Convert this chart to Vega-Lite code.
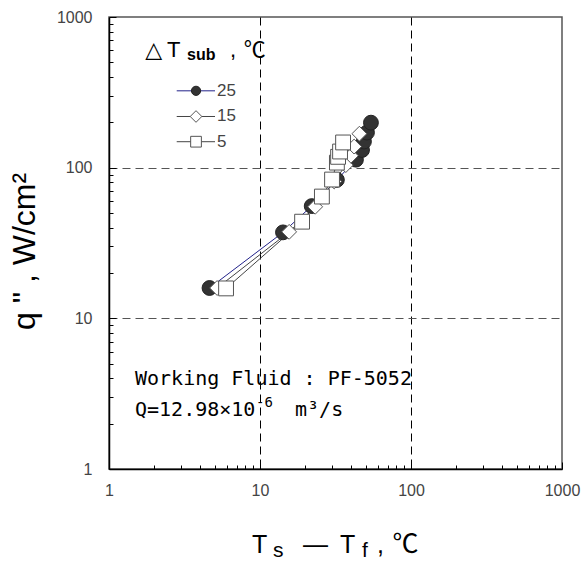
{
  "$schema": "https://vega.github.io/schema/vega-lite/v6.json",
  "width": 453,
  "height": 452,
  "autosize": {"type": "none"},
  "padding": {"left": 109, "top": 17, "right": 21, "bottom": 94},
  "background": "white",
  "config": {"view": {"stroke": "#555", "strokeWidth": 1.5}, "font": "Liberation Sans"},
  "datasets": {
    "pts": [
      {"series": "25", "x": 4.63, "y": 15.9},
      {"series": "25", "x": 14.2, "y": 37.2},
      {"series": "25", "x": 22.0, "y": 55.6},
      {"series": "25", "x": 32.3, "y": 83},
      {"series": "25", "x": 43.2, "y": 113},
      {"series": "25", "x": 47.4, "y": 131},
      {"series": "25", "x": 48.8, "y": 149},
      {"series": "25", "x": 51.1, "y": 171},
      {"series": "25", "x": 54.3, "y": 199},
      {"series": "15", "x": 5.2, "y": 15.9},
      {"series": "15", "x": 15.6, "y": 37.5},
      {"series": "15", "x": 23.2, "y": 55},
      {"series": "15", "x": 31.0, "y": 81},
      {"series": "15", "x": 37.0, "y": 104},
      {"series": "15", "x": 40.0, "y": 120},
      {"series": "15", "x": 42.0, "y": 138},
      {"series": "15", "x": 45.5, "y": 168},
      {"series": "5", "x": 5.96, "y": 15.8},
      {"series": "5", "x": 19.0, "y": 43.8},
      {"series": "5", "x": 25.7, "y": 64.3},
      {"series": "5", "x": 30.0, "y": 83.4},
      {"series": "5", "x": 32.3, "y": 108},
      {"series": "5", "x": 32.9, "y": 118},
      {"series": "5", "x": 33.9, "y": 128},
      {"series": "5", "x": 35.5, "y": 147}
    ]
  },
  "layer": [
    {
      "data": {"name": "pts"},
      "mark": {"type": "line", "strokeWidth": 1},
      "encoding": {
        "x": {
          "field": "x", "type": "quantitative",
          "scale": {"type": "log", "domain": [1, 1000], "nice": false},
          "axis": {
            "title": null,
            "values": [1,2,3,4,5,6,7,8,9,10,20,30,40,50,60,70,80,90,100,200,300,400,500,600,700,800,900,1000],
            "labelExpr": "indexof([1,10,100,1000], datum.value) >= 0 ? '' + datum.value : ''",
            "labelFlush": false,
            "labelFont": "Liberation Sans", "labelFontSize": 16, "labelColor": "#444",
            "labelPadding": 20,
            "tickSize": {"condition": {"test": "indexof([1,10,100,1000], datum.value) >= 0", "value": -7}, "value": -4},
            "tickColor": "black",
            "domainColor": "black", "domainWidth": 1.5,
            "grid": true,
            "gridColor": "black", "gridDash": [8, 5], "gridWidth": 1,
            "gridOpacity": {"condition": {"test": "datum.value === 10 || datum.value === 100", "value": 1}, "value": 0}
          }
        },
        "y": {
          "field": "y", "type": "quantitative",
          "scale": {"type": "log", "domain": [1, 1000], "nice": false},
          "axis": {
            "title": null,
            "values": [1,2,3,4,5,6,7,8,9,10,20,30,40,50,60,70,80,90,100,200,300,400,500,600,700,800,900,1000],
            "labelExpr": "indexof([1,10,100,1000], datum.value) >= 0 ? '' + datum.value : ''",
            "labelFlush": false,
            "labelFont": "Liberation Sans", "labelFontSize": 16, "labelColor": "#444",
            "labelPadding": 24,
            "tickSize": {"condition": {"test": "indexof([1,10,100,1000], datum.value) >= 0", "value": -7}, "value": -4},
            "tickColor": "black",
            "domainColor": "black", "domainWidth": 1.5,
            "grid": true,
            "gridColor": "#555", "gridDash": [8, 5], "gridWidth": 1,
            "gridOpacity": {"condition": {"test": "datum.value === 10 || datum.value === 100", "value": 1}, "value": 0}
          }
        },
        "detail": {"field": "series"},
        "color": {
          "field": "series", "type": "nominal",
          "scale": {"domain": ["25", "15", "5"], "range": ["#22228a", "#444444", "#444444"]},
          "legend": null
        }
      }
    },
    {
      "data": {"name": "pts"},
      "mark": {"type": "point", "filled": false, "size": 220, "strokeWidth": 1, "opacity": 1},
      "encoding": {
        "x": {"field": "x", "type": "quantitative", "scale": {"type": "log", "domain": [1, 1000], "nice": false}},
        "y": {"field": "y", "type": "quantitative", "scale": {"type": "log", "domain": [1, 1000], "nice": false}},
        "shape": {
          "field": "series", "type": "nominal",
          "scale": {"domain": ["25", "15", "5"], "range": ["circle", "diamond", "square"]},
          "legend": null
        },
        "fill": {
          "field": "series", "type": "nominal",
          "scale": {"domain": ["25", "15", "5"], "range": ["#333333", "#ffffff", "#ffffff"]},
          "legend": null
        },
        "stroke": {
          "field": "series", "type": "nominal",
          "scale": {"domain": ["25", "15", "5"], "range": ["#222222", "#555555", "#555555"]},
          "legend": null
        }
      }
    },
    {
      "data": {"values": [{}]},
      "mark": {"type": "text", "text": "q \"    ,     W/cm²", "angle": 270, "align": "center", "baseline": "middle", "font": "Liberation Sans", "fontSize": 32, "color": "black"},
      "encoding": {"x": {"datum": 0.278, "scale": {"type": "log", "domain": [1, 1000], "nice": false}}, "y": {"datum": 27.8, "scale": {"type": "log", "domain": [1, 1000], "nice": false}}}
    },
    {
      "data": {"values": [{}]},
      "mark": {"type": "rule", "color": "#22228a", "strokeWidth": 1},
      "encoding": {"x": {"datum": 2.808, "scale": {"type": "log", "domain": [1, 1000], "nice": false}}, "x2": {"datum": 5.035}, "y": {"datum": 323.6, "scale": {"type": "log", "domain": [1, 1000], "nice": false}}}
    },
    {
      "data": {"values": [{}]},
      "mark": {"type": "rule", "color": "#444444", "strokeWidth": 1},
      "encoding": {"x": {"datum": 2.808, "scale": {"type": "log", "domain": [1, 1000], "nice": false}}, "x2": {"datum": 5.035}, "y": {"datum": 218.6, "scale": {"type": "log", "domain": [1, 1000], "nice": false}}}
    },
    {
      "data": {"values": [{}]},
      "mark": {"type": "rule", "color": "#444444", "strokeWidth": 1},
      "encoding": {"x": {"datum": 2.808, "scale": {"type": "log", "domain": [1, 1000], "nice": false}}, "x2": {"datum": 5.035}, "y": {"datum": 148.7, "scale": {"type": "log", "domain": [1, 1000], "nice": false}}}
    },
    {
      "data": {"values": [{}]},
      "mark": {"type": "point", "shape": "circle", "filled": true, "fill": "#333333", "stroke": "#222222", "strokeWidth": 1, "size": 85, "opacity": 1},
      "encoding": {"x": {"datum": 3.77, "scale": {"type": "log", "domain": [1, 1000], "nice": false}}, "y": {"datum": 323.6, "scale": {"type": "log", "domain": [1, 1000], "nice": false}}}
    },
    {
      "data": {"values": [{}]},
      "mark": {"type": "point", "shape": "diamond", "filled": true, "fill": "#ffffff", "stroke": "#555555", "strokeWidth": 1, "size": 135, "opacity": 1},
      "encoding": {"x": {"datum": 3.77, "scale": {"type": "log", "domain": [1, 1000], "nice": false}}, "y": {"datum": 218.6, "scale": {"type": "log", "domain": [1, 1000], "nice": false}}}
    },
    {
      "data": {"values": [{}]},
      "mark": {"type": "point", "shape": "square", "filled": true, "fill": "#ffffff", "stroke": "#555555", "strokeWidth": 1, "size": 115, "opacity": 1},
      "encoding": {"x": {"datum": 3.77, "scale": {"type": "log", "domain": [1, 1000], "nice": false}}, "y": {"datum": 148.7, "scale": {"type": "log", "domain": [1, 1000], "nice": false}}}
    },
    {
      "data": {"values": [{}]},
      "mark": {"type": "text", "text": "25", "align": "left", "baseline": "middle", "font": "Liberation Sans", "fontSize": 17, "color": "#444444"},
      "encoding": {"x": {"datum": 5.19, "scale": {"type": "log", "domain": [1, 1000], "nice": false}}, "y": {"datum": 323.6, "scale": {"type": "log", "domain": [1, 1000], "nice": false}}}
    },
    {
      "data": {"values": [{}]},
      "mark": {"type": "text", "text": "15", "align": "left", "baseline": "middle", "font": "Liberation Sans", "fontSize": 17, "color": "#444444"},
      "encoding": {"x": {"datum": 5.19, "scale": {"type": "log", "domain": [1, 1000], "nice": false}}, "y": {"datum": 218.6, "scale": {"type": "log", "domain": [1, 1000], "nice": false}}}
    },
    {
      "data": {"values": [{}]},
      "mark": {"type": "text", "text": "5", "align": "left", "baseline": "middle", "font": "Liberation Sans", "fontSize": 17, "color": "#444444"},
      "encoding": {"x": {"datum": 5.19, "scale": {"type": "log", "domain": [1, 1000], "nice": false}}, "y": {"datum": 148.7, "scale": {"type": "log", "domain": [1, 1000], "nice": false}}}
    },
    {
      "data": {"values": [{}]},
      "mark": {"type": "text", "text": "△", "align": "left", "baseline": "alphabetic", "font": "DejaVu Sans", "fontSize": 22, "color": "black"},
      "encoding": {"x": {"datum": 1.74, "scale": {"type": "log", "domain": [1, 1000], "nice": false}}, "y": {"datum": 543, "scale": {"type": "log", "domain": [1, 1000], "nice": false}}}
    },
    {
      "data": {"values": [{}]},
      "mark": {"type": "text", "text": "T", "align": "left", "baseline": "alphabetic", "font": "Liberation Sans", "fontSize": 22, "color": "black"},
      "encoding": {"x": {"datum": 2.42, "scale": {"type": "log", "domain": [1, 1000], "nice": false}}, "y": {"datum": 543, "scale": {"type": "log", "domain": [1, 1000], "nice": false}}}
    },
    {
      "data": {"values": [{}]},
      "mark": {"type": "text", "text": "sub", "align": "left", "baseline": "alphabetic", "font": "Liberation Sans", "fontSize": 16, "fontWeight": "bold", "color": "black"},
      "encoding": {"x": {"datum": 3.29, "scale": {"type": "log", "domain": [1, 1000], "nice": false}}, "y": {"datum": 520, "scale": {"type": "log", "domain": [1, 1000], "nice": false}}}
    },
    {
      "data": {"values": [{}]},
      "mark": {"type": "text", "text": ",", "align": "left", "baseline": "alphabetic", "font": "Liberation Sans", "fontSize": 22, "color": "black"},
      "encoding": {"x": {"datum": 6.33, "scale": {"type": "log", "domain": [1, 1000], "nice": false}}, "y": {"datum": 543, "scale": {"type": "log", "domain": [1, 1000], "nice": false}}}
    },
    {
      "data": {"values": [{}]},
      "mark": {"type": "text", "text": "℃", "align": "left", "baseline": "alphabetic", "font": "Noto Sans CJK KR", "fontSize": 22, "color": "black"},
      "encoding": {"x": {"datum": 7.8, "scale": {"type": "log", "domain": [1, 1000], "nice": false}}, "y": {"datum": 543, "scale": {"type": "log", "domain": [1, 1000], "nice": false}}}
    },
    {
      "data": {"values": [{}]},
      "mark": {"type": "text", "text": "Working Fluid : PF-5052", "align": "left", "baseline": "alphabetic", "font": "DejaVu Sans Mono", "fontSize": 20, "color": "black"},
      "encoding": {"x": {"datum": 1.486, "scale": {"type": "log", "domain": [1, 1000], "nice": false}}, "y": {"datum": 3.6, "scale": {"type": "log", "domain": [1, 1000], "nice": false}}}
    },
    {
      "data": {"values": [{}]},
      "mark": {"type": "text", "text": "Q=12.98×10", "align": "left", "baseline": "alphabetic", "font": "DejaVu Sans Mono", "fontSize": 20, "color": "black"},
      "encoding": {"x": {"datum": 1.486, "scale": {"type": "log", "domain": [1, 1000], "nice": false}}, "y": {"datum": 2.24, "scale": {"type": "log", "domain": [1, 1000], "nice": false}}}
    },
    {
      "data": {"values": [{}]},
      "mark": {"type": "text", "text": "-6", "align": "left", "baseline": "alphabetic", "font": "DejaVu Sans Mono", "fontSize": 14, "color": "black"},
      "encoding": {"x": {"datum": 9.41, "scale": {"type": "log", "domain": [1, 1000], "nice": false}}, "y": {"datum": 2.57, "scale": {"type": "log", "domain": [1, 1000], "nice": false}}}
    },
    {
      "data": {"values": [{}]},
      "mark": {"type": "text", "text": "m³/s", "align": "left", "baseline": "alphabetic", "font": "DejaVu Sans Mono", "fontSize": 20, "color": "black"},
      "encoding": {"x": {"datum": 17.06, "scale": {"type": "log", "domain": [1, 1000], "nice": false}}, "y": {"datum": 2.24, "scale": {"type": "log", "domain": [1, 1000], "nice": false}}}
    },
    {
      "data": {"values": [{}]},
      "mark": {"type": "text", "text": "T", "align": "left", "baseline": "alphabetic", "font": "Liberation Sans", "fontSize": 25, "color": "black"},
      "encoding": {"x": {"datum": 8.85, "scale": {"type": "log", "domain": [1, 1000], "nice": false}}, "y": {"datum": 0.278, "scale": {"type": "log", "domain": [1, 1000], "nice": false}}}
    },
    {
      "data": {"values": [{}]},
      "mark": {"type": "text", "text": "s", "align": "left", "baseline": "alphabetic", "font": "Liberation Sans", "fontSize": 21, "color": "black"},
      "encoding": {"x": {"datum": 12.2, "scale": {"type": "log", "domain": [1, 1000], "nice": false}}, "y": {"datum": 0.261, "scale": {"type": "log", "domain": [1, 1000], "nice": false}}}
    },
    {
      "data": {"values": [{}]},
      "mark": {"type": "text", "text": "—", "align": "left", "baseline": "alphabetic", "font": "Liberation Sans", "fontSize": 25, "color": "black"},
      "encoding": {"x": {"datum": 19.3, "scale": {"type": "log", "domain": [1, 1000], "nice": false}}, "y": {"datum": 0.278, "scale": {"type": "log", "domain": [1, 1000], "nice": false}}}
    },
    {
      "data": {"values": [{}]},
      "mark": {"type": "text", "text": "T", "align": "left", "baseline": "alphabetic", "font": "Liberation Sans", "fontSize": 25, "color": "black"},
      "encoding": {"x": {"datum": 33.9, "scale": {"type": "log", "domain": [1, 1000], "nice": false}}, "y": {"datum": 0.278, "scale": {"type": "log", "domain": [1, 1000], "nice": false}}}
    },
    {
      "data": {"values": [{}]},
      "mark": {"type": "text", "text": "f", "align": "left", "baseline": "alphabetic", "font": "Liberation Sans", "fontSize": 21, "color": "black"},
      "encoding": {"x": {"datum": 47.4, "scale": {"type": "log", "domain": [1, 1000], "nice": false}}, "y": {"datum": 0.261, "scale": {"type": "log", "domain": [1, 1000], "nice": false}}}
    },
    {
      "data": {"values": [{}]},
      "mark": {"type": "text", "text": ",", "align": "left", "baseline": "alphabetic", "font": "Liberation Sans", "fontSize": 25, "color": "black"},
      "encoding": {"x": {"datum": 59.6, "scale": {"type": "log", "domain": [1, 1000], "nice": false}}, "y": {"datum": 0.278, "scale": {"type": "log", "domain": [1, 1000], "nice": false}}}
    },
    {
      "data": {"values": [{}]},
      "mark": {"type": "text", "text": "℃", "align": "left", "baseline": "alphabetic", "font": "Noto Sans CJK KR", "fontSize": 26, "color": "black"},
      "encoding": {"x": {"datum": 75.5, "scale": {"type": "log", "domain": [1, 1000], "nice": false}}, "y": {"datum": 0.278, "scale": {"type": "log", "domain": [1, 1000], "nice": false}}}
    }
  ]
}
